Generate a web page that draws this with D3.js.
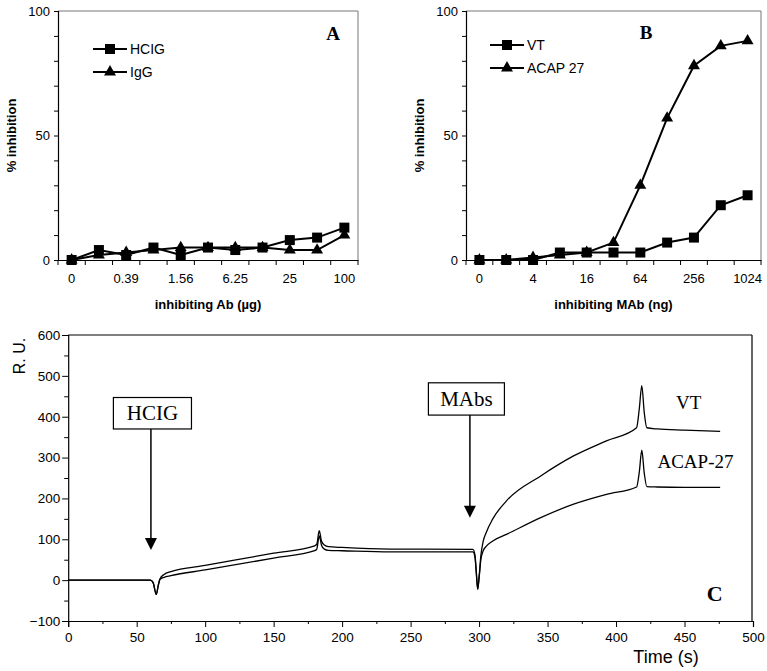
<!DOCTYPE html>
<html><head><meta charset="utf-8">
<script src="https://cdn.jsdelivr.net/npm/d3@7"></script>
<style>
body{margin:0;background:#fff;}
svg{display:block;}
text{font-family:"Liberation Sans",Arial,sans-serif;fill:#000;}
</style></head>
<body>
<svg id="c" width="767" height="671"></svg>
<script>
// ---------- data ----------
const catsA = ["0","0.195","0.39","0.78","1.56","3.125","6.25","12.5","25","50","100"];
const hcigA = [0,4,2,5,2,5,4,5,8,9,13];
const iggA  = [0,2,3,4,5,5,5,5,4,4,10];

const catsB = ["0","2","4","8","16","32","64","128","256","512","1024"];
const vtB   = [0,0,0,3,3,3,3,7,9,22,26];
const acapB = [0,0,1,2,3,7,30,57,78,86,88];

const yTicksAB = [0,10,20,30,40,50,60,70,80,90,100];

const timeC = [0,60,62,64.3,65.7,67,70,75,100,150,180,181.5,183.3,185,187,190,200,235,260,295.5,297,298,299,300,301.3,303,305,310,320,345,369,393,415,417,418.8,420.6,422.5,430,450,476];
const vtC   = [0,0,-6,-35,-14,3,14,21,36,66,84,88,121,95,86,82,80,76,76,75.5,62,20,-22,8,60,95,115,150,194,255,304,341,373,420,476,410,373,370,367,364];
const acapC = [0,0,-6,-35,-14,2,7,11,25,54,72,76,108,85,76,73,72,69,69,69,56,15,-22,5,50,72,82,96,112,153,186,210,228,265,318,262,229,228,227,227];

const xTicksC = [0,25,50,75,100,125,150,175,200,225,250,275,300,325,350,375,400,425,450,475,500];
const yTicksC = [-100,-50,0,50,100,150,200,250,300,350,400,450,500,550,600];

const svg = d3.select("#c");
svg.append("rect").attr("width",767).attr("height",671).attr("fill","#fff");

// ---------- panels A and B ----------
function dosePanel(cfg){
  const x = d3.scaleBand().domain(cfg.cats).range(cfg.xr).padding(0);
  const y = d3.scaleLinear().domain([0,100]).range([260,11]);
  const g = svg.append("g");
  // frame (top/right grey)
  g.append("line").attr("x1",cfg.xr[0]).attr("x2",cfg.xr[1]).attr("y1",y(100)).attr("y2",y(100))
    .attr("stroke","#777").attr("stroke-width",1);
  g.append("line").attr("x1",cfg.xr[1]).attr("x2",cfg.xr[1]).attr("y1",y(100)).attr("y2",y(0))
    .attr("stroke","#777").attr("stroke-width",1);
  // y axis
  const ya = g.append("g").attr("transform",`translate(${cfg.xr[0]},0)`)
    .call(d3.axisLeft(y).tickValues(yTicksAB).tickSize(4).tickPadding(4)
      .tickFormat(d => d%50===0 ? d : ""));
  ya.selectAll("text").attr("font-size",13).style("font-family","Liberation Sans, Arial");
  ya.select(".domain").attr("stroke-width",1.2);
  // x axis: labels every other category, ticks at category boundaries
  const xa = g.append("g").attr("transform",`translate(0,${y(0)})`)
    .call(d3.axisBottom(x).tickSize(0).tickPadding(14)
      .tickFormat((d,i) => i%2===0 ? d : ""));
  xa.selectAll("text").attr("font-size",13).style("font-family","Liberation Sans, Arial");
  xa.select(".domain").attr("stroke-width",1.2);
  const bounds = cfg.cats.map(c => x(c)).concat([x(cfg.cats[cfg.cats.length-1]) + x.bandwidth()]);
  g.selectAll(".bt").data(bounds).join("line")
    .attr("x1",d=>d).attr("x2",d=>d).attr("y1",y(0)).attr("y2",y(0)+5)
    .attr("stroke","#000").attr("stroke-width",1);
  // titles
  g.append("text").attr("x",(cfg.xr[0]+cfg.xr[1])/2).attr("y",309).attr("text-anchor","middle")
    .attr("font-size",13).attr("font-weight","bold").text(cfg.xTitle);
  g.append("text").attr("transform",`translate(${cfg.xr[0]-42},${y(50)}) rotate(-90)`)
    .attr("text-anchor","middle").attr("font-size",13).attr("font-weight","bold").text("% inhibition");
  // series
  const line = d3.line().x((d,i)=>x(cfg.cats[i])+x.bandwidth()/2).y(d=>y(d));
  const sq = d3.symbol().type(d3.symbolSquare).size(100);
  const tr = d3.symbol().type(d3.symbolTriangle).size(62);
  cfg.series.forEach(s=>{
    g.append("path").attr("d",line(s.values)).attr("fill","none").attr("stroke","#000").attr("stroke-width",2);
  });
  cfg.series.forEach(s=>{
    g.selectAll(null).data(s.values).join("path")
      .attr("d", s.marker==="sq" ? sq : tr)
      .attr("transform",(d,i)=>`translate(${x(cfg.cats[i])+x.bandwidth()/2},${y(d)})`)
      .attr("fill","#000");
  });
  // legend
  cfg.series.forEach((s,k)=>{
    const ly = cfg.leg[1] + k*23;
    g.append("line").attr("x1",cfg.leg[0]).attr("x2",cfg.leg[0]+34).attr("y1",ly).attr("y2",ly)
      .attr("stroke","#000").attr("stroke-width",2);
    g.append("path").attr("d", s.marker==="sq" ? sq() : tr())
      .attr("transform",`translate(${cfg.leg[0]+17},${ly})`).attr("fill","#000");
    g.append("text").attr("x",cfg.leg[0]+37).attr("y",ly+5).attr("font-size",14).text(s.name);
  });
  // panel letter
  g.append("text").attr("x",cfg.letter[0]).attr("y",cfg.letter[1]).attr("text-anchor","middle")
    .attr("font-size",19).attr("font-weight","bold").style("font-family","Liberation Serif, Times New Roman, serif")
    .text(cfg.name);
}

dosePanel({cats:catsA, xr:[58,358], xTitle:"inhibiting Ab (µg)", name:"A", letter:[333,40], leg:[93,49],
  series:[{name:"HCIG",values:hcigA,marker:"sq"},{name:"IgG",values:iggA,marker:"tr"}]});
dosePanel({cats:catsB, xr:[466,761], xTitle:"inhibiting MAb (ng)", name:"B", letter:[646,39], leg:[490,45],
  series:[{name:"VT",values:vtB,marker:"sq"},{name:"ACAP 27",values:acapB,marker:"tr"}]});

// ---------- panel C ----------
const xC = d3.scaleLinear().domain([0,500]).range([68.2,753]);
const yC = d3.scaleLinear().domain([-100,600]).range([621,335]);
const gC = svg.append("g");
gC.append("line").attr("x1",xC(0)).attr("x2",752).attr("y1",yC(600)).attr("y2",yC(600)).attr("stroke","#000").attr("stroke-width",1.2);
gC.append("line").attr("x1",752).attr("x2",752).attr("y1",yC(600)).attr("y2",yC(-100)).attr("stroke","#000").attr("stroke-width",1.2);

const xMinor = gC.append("g").attr("transform",`translate(0,${yC(-100)})`)
  .call(d3.axisBottom(xC).tickValues(xTicksC.filter(d=>d%50!==0)).tickSize(3).tickFormat(""));
xMinor.select(".domain").remove();
const xMajor = gC.append("g").attr("transform",`translate(0,${yC(-100)})`)
  .call(d3.axisBottom(xC).tickValues(xTicksC.filter(d=>d%50===0)).tickSize(6).tickPadding(5));
xMajor.selectAll("text").attr("font-size",13.5).style("font-family","Liberation Sans Narrow, Liberation Sans, Arial");
xMajor.select(".domain").attr("stroke-width",1.2);

const yMinor = gC.append("g").attr("transform",`translate(${xC(0)},0)`)
  .call(d3.axisLeft(yC).tickValues(yTicksC.filter(d=>d%100!==0)).tickSize(4).tickFormat(""));
yMinor.select(".domain").remove();
const yMajor = gC.append("g").attr("transform",`translate(${xC(0)},0)`)
  .call(d3.axisLeft(yC).tickValues(yTicksC.filter(d=>d%100===0)).tickSize(6).tickPadding(2));
yMajor.selectAll("text").attr("font-size",13.5).style("font-family","Liberation Sans Narrow, Liberation Sans, Arial");
yMajor.select(".domain").attr("stroke-width",1.2);

gC.append("text").attr("transform","translate(25,356) rotate(-90)").attr("text-anchor","middle")
  .attr("font-size",16).text("R. U.");
gC.append("text").attr("x",666).attr("y",663).attr("text-anchor","middle").attr("font-size",18)
  .style("font-family","Liberation Sans Narrow, Liberation Sans, Arial").text("Time (s)");

const lineC = d3.line().x((d,i)=>xC(timeC[i])).y(d=>yC(d)).curve(d3.curveMonotoneX);
[vtC, acapC].forEach(v=>{
  gC.append("path").attr("d",lineC(v)).attr("fill","none").attr("stroke","#000").attr("stroke-width",1.3);
});

// annotations (positions in data units)
const annots = [
  {text:"HCIG", boxT:[33,90], boxV:[447,370], arrowT:60.4, tipV:74},
  {text:"MAbs", boxT:[263,318.5], boxV:[483,404], arrowT:293.3, tipV:153}
];
annots.forEach(a=>{
  const x0 = xC(a.boxT[0]), x1 = xC(a.boxT[1]), y0 = yC(a.boxV[0]), y1 = yC(a.boxV[1]);
  gC.append("rect").attr("x",x0).attr("y",y0).attr("width",x1-x0).attr("height",y1-y0)
    .attr("fill","#fff").attr("stroke","#000").attr("stroke-width",1.2);
  gC.append("text").attr("x",(x0+x1)/2).attr("y",(y0+y1)/2+7).attr("text-anchor","middle")
    .attr("font-size",21).style("font-family","Liberation Serif, Times New Roman, serif").text(a.text);
  const ax = xC(a.arrowT), tip = yC(a.tipV);
  gC.append("line").attr("x1",ax).attr("x2",ax).attr("y1",y1).attr("y2",tip-10)
    .attr("stroke","#000").attr("stroke-width",1.5);
  gC.append("path").attr("d",`M${ax-6},${tip-12}L${ax+6},${tip-12}L${ax},${tip}Z`).attr("fill","#000");
});

const curveLabels = [{text:"VT", t:453, v:420}, {text:"ACAP-27", t:458, v:274}];
curveLabels.forEach(l=>{
  gC.append("text").attr("x",xC(l.t)).attr("y",yC(l.v)).attr("text-anchor","middle")
    .attr("font-size",19).style("font-family","Liberation Serif, Times New Roman, serif").text(l.text);
});
gC.append("text").attr("x",xC(472)).attr("y",yC(-50)).attr("text-anchor","middle")
  .attr("font-size",22).attr("font-weight","bold").style("font-family","Liberation Serif, Times New Roman, serif").text("C");
</script>
</body></html>
